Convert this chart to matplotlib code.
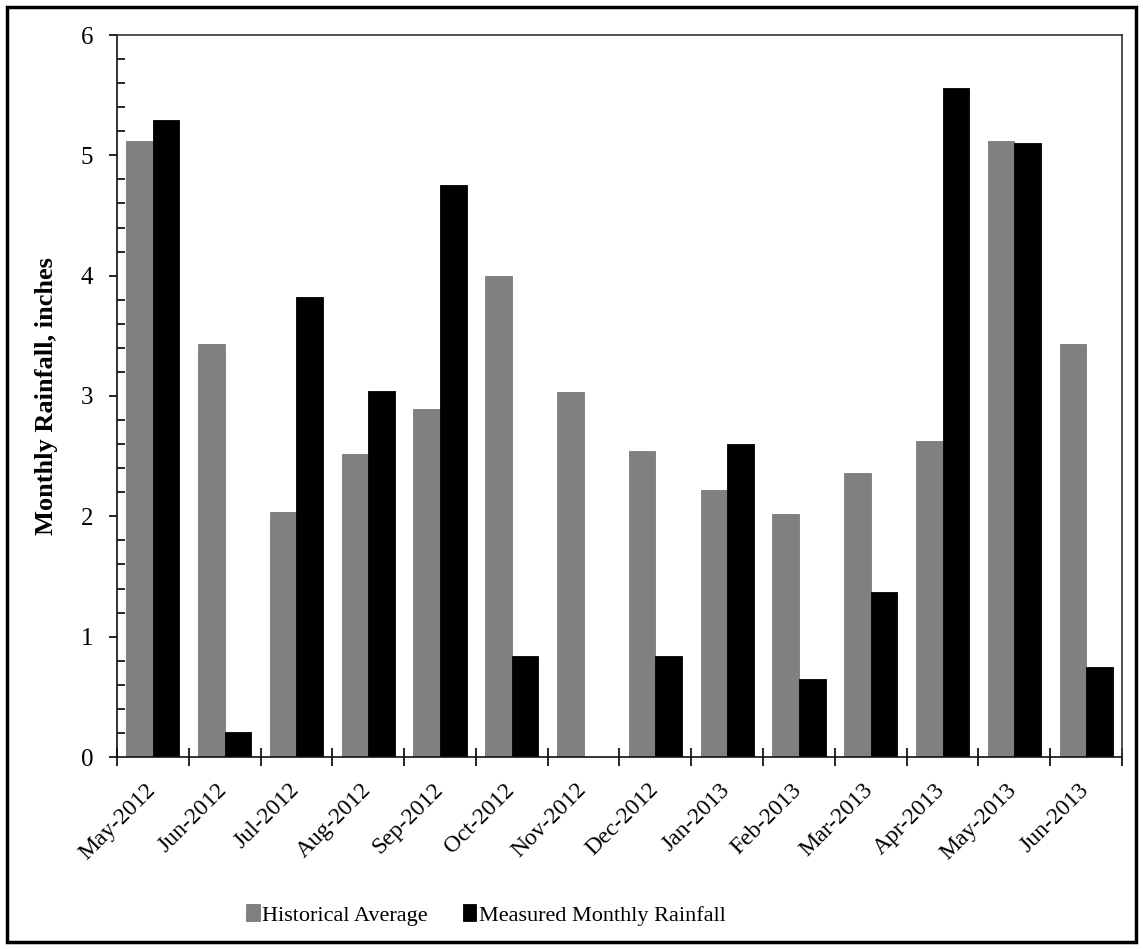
import matplotlib
matplotlib.use("Agg")
import matplotlib.pyplot as plt
import matplotlib.transforms as mtransforms
import numpy as np
from matplotlib.ticker import MultipleLocator, FixedLocator, NullFormatter
from matplotlib.patches import Rectangle

months = ["May-2012", "Jun-2012", "Jul-2012", "Aug-2012", "Sep-2012", "Oct-2012",
          "Nov-2012", "Dec-2012", "Jan-2013", "Feb-2013", "Mar-2013", "Apr-2013",
          "May-2013", "Jun-2013"]
historical = [5.12, 3.43, 2.04, 2.52, 2.89, 4.00, 3.03, 2.54, 2.22, 2.02, 2.36, 2.63, 5.12, 3.43]
measured = [5.29, 0.21, 3.82, 3.04, 4.75, 0.84, 0.0, 0.84, 2.60, 0.65, 1.37, 5.56, 5.10, 0.75]

plt.rcParams['font.family'] = ['Liberation Serif', 'DejaVu Serif']

fig = plt.figure(figsize=(11.43, 9.49), dpi=100)
W, H = 1143, 949
left, right, top, bottom = 117, 1122, 35, 757
ax = fig.add_axes([left / W, 1 - bottom / H, (right - left) / W, (bottom - top) / H])

x = np.arange(len(months))
bw = 0.37
ax.bar(x - bw / 2, historical, width=bw, color="#808080", edgecolor="#7a7a7a",
       linewidth=0.6, label="Historical Average")
ax.bar(x + bw / 2, measured, width=bw, color="#000000", edgecolor="#000000",
       linewidth=0.6, label="Measured Monthly Rainfall")

ax.set_xlim(-0.5, len(months) - 0.5)
ax.set_ylim(0, 6)
ax.yaxis.set_major_locator(MultipleLocator(1))
ax.yaxis.set_minor_locator(MultipleLocator(0.2))
ax.tick_params(axis='y', which='major', direction='out', length=6, width=1.2,
               labelsize=18, pad=11, colors='black')
ax.tick_params(axis='y', which='minor', direction='in', length=5.5, width=1.2)

ax.set_xticks(x)
ax.set_xticklabels(months, rotation=45, ha='right', rotation_mode='anchor', fontsize=17)
ax.tick_params(axis='x', which='major', length=0, pad=16)
shift = mtransforms.ScaledTranslation(-8 / 100, 0, fig.dpi_scale_trans)
for lbl in ax.get_xticklabels():
    lbl.set_transform(lbl.get_transform() + shift)
ax.xaxis.set_minor_locator(FixedLocator(np.arange(-0.5, len(months), 1.0)))
ax.xaxis.set_minor_formatter(NullFormatter())
ax.tick_params(axis='x', which='minor', direction='inout', length=12.5, width=1.2)

for name, s in ax.spines.items():
    s.set_linewidth(1.2)
    s.set_color('#111111' if name in ('left', 'bottom') else '#333333')

ax.set_ylabel("Monthly Rainfall, inches", fontsize=19, fontweight='bold')
ax.yaxis.set_label_coords((58 - left) / (right - left), 0.5)

leg = fig.legend(loc='center', bbox_to_anchor=(486 / W, 1 - 915 / H), ncol=2, frameon=False,
                 fontsize=16, handlelength=0.6, handleheight=0.8, handletextpad=0.1,
                 columnspacing=1.6)

fig.patches.append(Rectangle((7 / W, 7 / H), (1136 - 7) / W, (942 - 7) / H,
                             transform=fig.transFigure, fill=False, edgecolor='black',
                             linewidth=2.5, zorder=10))

fig.savefig("out.png", dpi=100)
